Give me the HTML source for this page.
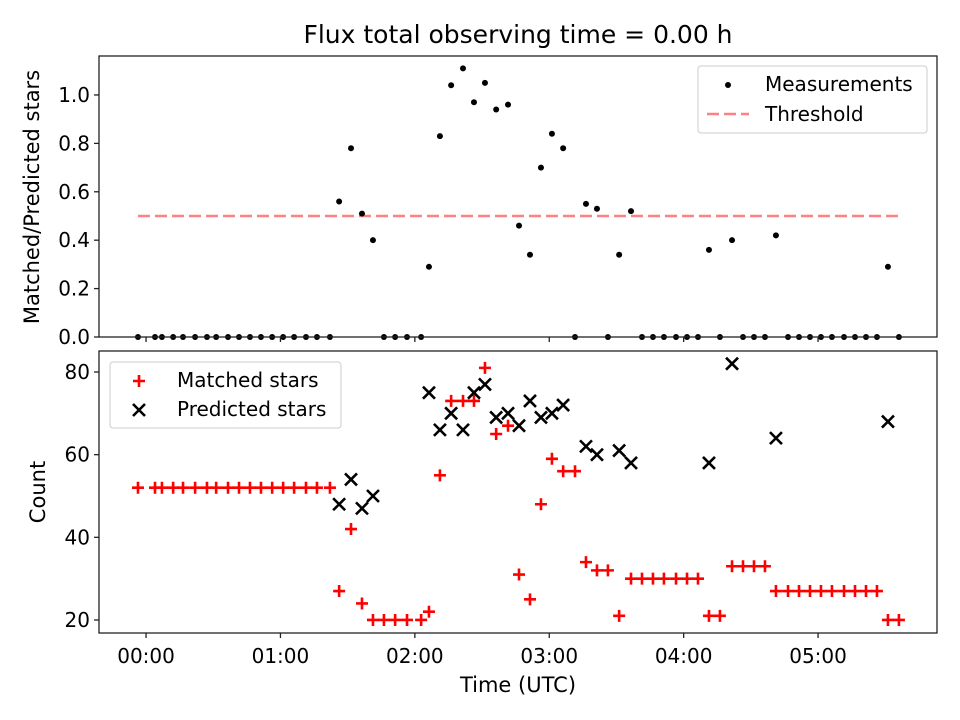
<!DOCTYPE html>
<html><head><meta charset="utf-8"><style>
html,body{margin:0;padding:0;background:#fff;}
svg{display:block;font-family:"DejaVu Sans","Liberation Sans",sans-serif;}
</style></head><body>
<svg id="chart" width="960" height="720" viewBox="0 0 960 720" xmlns="http://www.w3.org/2000/svg">
<rect width="960" height="720" fill="#fff"/>
<text x="518" y="43" font-size="25" text-anchor="middle">Flux total observing time = 0.00 h</text>
<g id="topPanel"></g>
<g id="botPanel"></g>
<text x="518" y="692" font-size="21" text-anchor="middle">Time (UTC)</text>
<text transform="translate(39,197) rotate(-90)" font-size="21" text-anchor="middle">Matched/Predicted stars</text>
<text transform="translate(45,492) rotate(-90)" font-size="21" text-anchor="middle">Count</text>
</svg>
<script>
const times=[-3.6,4.0,7.1,12.1,16.5,21.9,27.2,31.3,36.6,41.5,46.4,51.3,56.3,61.2,66.1,71.4,76.3,82.1,86.2,91.5,96.4,101.3,106.2,111.2,116.5,122.8,126.3,131.2,136.2,141.5,146.4,151.3,156.3,161.6,166.5,171.4,176.3,181.2,186.2,191.5,196.4,201.3,206.2,211.2,216.5,221.4,226.3,231.2,236.6,241.5,246.4,251.3,256.2,261.6,266.5,271.4,276.3,281.2,286.6,291.5,296.4,301.3,306.2,311.6,316.5,321.4,326.3,331.2,336.1];
const matched=[52,52,52,52,52,52,52,52,52,52,52,52,52,52,52,52,52,52,27,42,24,20,20,20,20,20,22,55,73,73,73,81,65,67,31,25,48,59,56,56,34,32,32,21,30,30,30,30,30,30,30,21,21,33,33,33,33,27,27,27,27,27,27,27,27,27,27,20,20];
const predicted=[null,null,null,null,null,null,null,null,null,null,null,null,null,null,null,null,null,null,48,54,47,50,null,null,null,null,75,66,70,66,75,77,69,70,67,73,69,70,72,null,62,60,null,61,58,null,null,null,null,null,null,58,null,82,null,null,null,64,null,null,null,null,null,null,null,null,null,68,null];
const ratio=[0,0,0,0,0,0,0,0,0,0,0,0,0,0,0,0,0,0,0.56,0.78,0.51,0.40,0,0,0,0,0.29,0.83,1.04,1.11,0.97,1.05,0.94,0.96,0.46,0.34,0.70,0.84,0.78,0,0.55,0.53,0,0.34,0.52,0,0,0,0,0,0,0.36,0,0.40,0,0,0,0.42,0,0,0,0,0,0,0,0,0,0.29,0];
const threshold=0.5;
const xTickVals=[0,60,120,180,240,300];
const xTickLabels=["00:00","01:00","02:00","03:00","04:00","05:00"];
const topYTicks=[0,0.2,0.4,0.6,0.8,1.0];
const topYLabels=["0.0","0.2","0.4","0.6","0.8","1.0"];
const botYTicks=[20,40,60,80];
const botYLabels=["20","40","60","80"];

const NS="http://www.w3.org/2000/svg";
const L=99,R=937;
const xMin=-21.0,xMax=353.1;
const X=v=>L+(v-xMin)/(xMax-xMin)*(R-L);
const TT=56,TB=337,tyMin=0,tyMax=1.161;
const YT=v=>TB-(v-tyMin)/(tyMax-tyMin)*(TB-TT);
const BT=351,BB=633,byMin=16.85,byMax=85.08;
const YB=v=>BB-(v-byMin)/(byMax-byMin)*(BB-BT);
function mk(p,tag,at){const e=document.createElementNS(NS,tag);for(const k in at)e.setAttribute(k,at[k]);p.appendChild(e);return e;}
const topG=document.getElementById('topPanel'),botG=document.getElementById('botPanel');

const thr=mk(topG,'line',{x1:X(times[0]),x2:X(times[times.length-1]),y1:YT(threshold),y2:YT(threshold),stroke:'#ff8080','stroke-width':2.5,'stroke-dasharray':'12,5'});


ratio.forEach((v,i)=>{const c=mk(topG,'circle',{cx:X(times[i]),cy:YT(v),r:3,fill:'#000'});

});
matched.forEach((v,i)=>{const x=X(times[i]),y=YB(v);const g=mk(botG,'path',{d:`M${x-6},${y}H${x+6}M${x},${y-6}V${y+6}`,stroke:'#f00','stroke-width':2.6});

});
predicted.forEach((v,i)=>{if(v===null)return;const x=X(times[i]),y=YB(v);const g=mk(botG,'path',{d:`M${x-6},${y-6}L${x+6},${y+6}M${x-6},${y+6}L${x+6},${y-6}`,stroke:'#000','stroke-width':2.6});

});

function axes(p,T,B,yt,yl,Y,labelsX,name){
  const f=mk(p,'rect',{x:L,y:T,width:R-L,height:B-T,fill:'none',stroke:'#222','stroke-width':1.3});
  
  
  xTickVals.forEach((v,i)=>{mk(p,'line',{x1:X(v),x2:X(v),y1:B,y2:B+5,stroke:'#222','stroke-width':1.3});
    if(labelsX){const t=mk(p,'text',{x:X(v),y:B+30,'font-size':20,'text-anchor':'middle'});t.textContent=xTickLabels[i];
    
    }});
  yt.forEach((v,i)=>{mk(p,'line',{x1:L-5,x2:L,y1:Y(v),y2:Y(v),stroke:'#222','stroke-width':1.3});
    const t=mk(p,'text',{x:L-9,y:Y(v)+7,'font-size':20,'text-anchor':'end'});t.textContent=yl[i];
    
    });
}
axes(topG,TT,TB,topYTicks,topYLabels,YT,false,'top-axes');
axes(botG,BT,BB,botYTicks,botYLabels,YB,true,'bottom-axes');

let lg=mk(topG,'g',{});


mk(lg,'rect',{x:698,y:66,width:229,height:67,rx:3,fill:'#fff','fill-opacity':0.8,stroke:'#ccc'});
mk(lg,'circle',{cx:728,cy:85,r:3,fill:'#000'});
let t=mk(lg,'text',{x:765,y:91,'font-size':20});t.textContent='Measurements';
mk(lg,'line',{x1:707,x2:749,y1:114,y2:114,stroke:'#ff8080','stroke-width':2.5,'stroke-dasharray':'12,5'});
t=mk(lg,'text',{x:765,y:121,'font-size':20});t.textContent='Threshold';
lg=mk(botG,'g',{});


mk(lg,'rect',{x:110,y:362,width:231,height:66,rx:3,fill:'#fff','fill-opacity':0.8,stroke:'#ccc'});
mk(lg,'path',{d:'M133,381H145M139,375V387',stroke:'#f00','stroke-width':2.6});
t=mk(lg,'text',{x:177,y:387,'font-size':20});t.textContent='Matched stars';
mk(lg,'path',{d:'M133,404L145,416M133,416L145,404',stroke:'#000','stroke-width':2.6});
t=mk(lg,'text',{x:177,y:416,'font-size':20});t.textContent='Predicted stars';
</script>
</body></html>
